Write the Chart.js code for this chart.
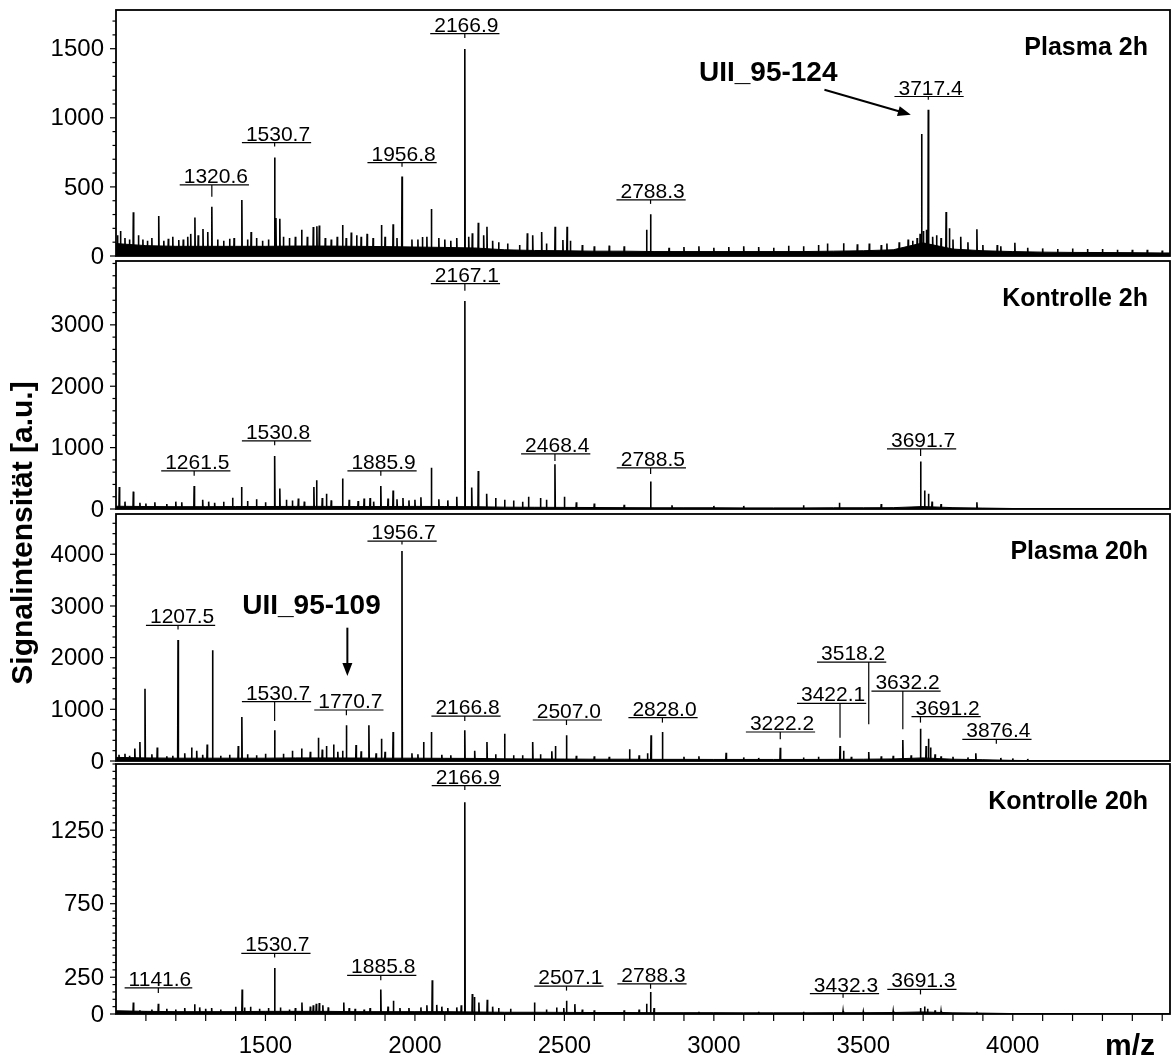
<!DOCTYPE html>
<html>
<head>
<meta charset="utf-8">
<script src="https://cdn.jsdelivr.net/npm/chart.js@4.4.1/dist/chart.umd.min.js"></script>
<style>
body { margin: 0; background: #fff; width: 1172px; height: 1059px; position: relative; overflow: hidden;
       font-family: "Liberation Sans", Arial, sans-serif; }
canvas { position: absolute; left: 0; }
#ytitle { position: absolute; left: -178px; top: 516px; width: 400px; height: 34px; line-height: 34px;
          text-align: center; font-weight: bold; font-size: 30px; transform: rotate(-90deg); }
</style>
</head>
<body>
<canvas id="p1" width="1172" height="270" style="top:0px"></canvas>
<canvas id="p2" width="1172" height="274" style="top:249px"></canvas>
<canvas id="p3" width="1172" height="273" style="top:502px"></canvas>
<canvas id="p4" width="1172" height="307" style="top:752px"></canvas>
<div id="ytitle">Signalintensität [a.u.]</div>
<script>
// m/z axis
const xMin = 1000, xMax = 4526;
const xLabels = [1500, 2000, 2500, 3000, 3500, 4000];

// noise floor, read every 100 m/z
const noiseMz = [1000,1100,1200,1300,1400,1500,1600,1700,1800,1900,2000,2100,2200,2300,2400,2500,2600,2700,
                 2800,2900,3000,3100,3200,3300,3400,3500,3600,3700,3800,3900,4000,4100,4200,4300,4400,4500];
const noiseP1 = [90,75,70,70,70,70,72,72,70,68,65,62,58,45,40,38,35,35,32,32,32,32,32,32,35,38,45,95,50,38,32,28,26,25,24,22];
const noiseP2 = [45,40,38,38,40,40,42,42,40,40,42,40,38,30,28,26,24,22,20,20,20,18,18,18,20,20,22,40,22,15,8,6,5,5,5,5];
const noiseP3 = [70,60,55,55,55,55,60,60,58,55,55,52,50,42,40,38,35,35,32,32,30,30,30,30,32,35,40,60,35,25,12,5,3,3,3,3];
const noiseP4 = [22,18,16,16,16,18,18,18,16,16,16,16,14,12,12,11,10,10,9,9,9,8,8,8,9,9,10,14,8,6,3,2,0,0,0,0];

// peaks [m/z, intensity]
const peaksP1 = [[1058,317],[1143,290],[1264,278],[1291,195],[1307,173],[1320.6,357],[1421,406],[1452,173],
  [1530.7,713],[1535,275],[1548,270],[1621,190],[1660,210],[1672,215],[1680,220],[1758,225],[1787,170],[1805,150],
  [1888,225],[1927,230],[1956.8,575],[2025,137],[2055,340],[2166.9,1498],[2192,165],[2212,241],[2241,212],
  [2376,165],[2394,150],[2424,173],[2469,212],[2495,115],[2509,212],[2775,190],[2788.3,302],[3434,92],[3579,90],
  [3680,130],[3695,882],[3711,190],[3717.4,1058],[3732,140],[3777,319],[3788,200],[3826,140],[3880,193],
  [3948,80],[4007,95]];
const grassP1 = [[1005,150],[1015,180],[1030,130],[1045,120],[1075,150],[1090,120],[1105,110],[1120,130],[1160,110],
  [1175,125],[1190,140],[1210,115],[1225,120],[1240,140],[1250,160],[1275,150],[1340,120],[1360,110],[1380,125],
  [1395,130],[1440,120],[1470,130],[1490,110],[1510,120],[1560,140],[1580,130],[1600,140],[1640,140],[1700,130],
  [1720,120],[1740,140],[1770,130],[1820,140],[1840,160],[1860,130],[1900,140],[1940,130],[1990,120],[2010,120],
  [2040,140],[2080,130],[2100,120],[2120,110],[2140,130],[2180,140],[2230,150],[2260,110],[2280,100],[2310,90],
  [2350,80],[2440,90],[2520,110],[2560,80],[2600,70],[2650,75],[2700,70],[2850,60],[2900,65],[2950,70],[3000,60],
  [3050,65],[3100,70],[3150,65],[3200,60],[3250,75],[3300,70],[3350,80],[3380,90],[3480,85],[3520,90],[3560,80],
  [3620,100],[3650,120],[3665,110],[3690,160],[3701,180],[3745,150],[3760,130],[3800,120],[3850,100],[3900,80],
  [3960,70],[4050,60],[4100,55],[4150,50],[4200,55],[4250,50],[4300,50],[4350,45],[4400,45],[4450,45],[4500,40]];

const peaksP2 = [[1011,359],[1058,283],[1261.5,375],[1390,185],[1420,359],[1530.8,865],[1548,335],[1662,359],
  [1671,468],[1704,250],[1758,495],[1850,180],[1885.9,375],[1927,300],[1960,180],[2000,150],[2055,670],
  [2167.1,3390],[2190,350],[2212,620],[2240,250],[2300,150],[2380,200],[2420,180],[2468.4,730],[2500,200],
  [2788.5,450],[3420,100],[3560,80],[3691.7,775],[3705,300],[3718,250],[3880,110]];
const grassP2 = [[1030,120],[1080,100],[1100,90],[1130,110],[1170,80],[1200,120],[1220,110],[1290,150],[1310,120],
  [1330,100],[1360,120],[1440,130],[1470,160],[1500,110],[1570,150],[1590,140],[1610,170],[1630,120],[1690,180],
  [1720,140],[1780,150],[1810,130],[1830,170],[1862,120],[1910,170],[1940,160],[1980,140],[2020,190],[2080,160],
  [2110,140],[2140,200],[2270,180],[2330,140],[2360,120],[2440,150],[2540,110],[2600,90],[2700,70],[2860,60],
  [3000,50],[3100,50],[3300,60],[3730,120],[3760,80]];

const peaksP3 = [[1063,240],[1080,368],[1097,1400],[1138,260],[1207.5,2341],[1253,260],[1305,320],[1323,2141],
  [1409,290],[1421,851],[1530.7,594],[1621,240],[1677,452],[1704,290],[1728,320],[1770.7,690],[1803,310],
  [1846,690],[1888,433],[1927,561],[1956.7,4062],[2029,368],[2055,561],[2166.8,594],[2241,368],[2300,529],
  [2394,368],[2470,290],[2507,497],[2718,226],[2790,497],[2828,561],[3041,160],[3222.2,258],[3422.1,290],
  [3434,200],[3518.2,174],[3632.2,406],[3691.2,626],[3710,290],[3718,433],[3725,260],[3876.4,148]];
const grassP3 = [[1010,120],[1030,140],[1045,100],[1120,130],[1170,90],[1190,100],[1230,150],[1270,200],[1290,120],
  [1350,100],[1380,120],[1440,130],[1470,110],[1500,140],[1560,140],[1590,200],[1650,180],[1690,220],[1742,180],
  [1758,200],[1820,190],[1870,150],[1900,180],[1990,150],[2010,130],[2090,120],[2120,110],[2200,200],[2270,130],
  [2330,110],[2360,110],[2420,130],[2458,190],[2540,100],[2600,90],[2650,80],[2750,110],[2778,150],[2900,80],
  [2950,90],[3100,70],[3150,60],[3300,70],[3350,80],[3460,80],[3560,90],[3600,100],[3660,110],[3740,130],
  [3760,90],[3800,80],[3850,70],[3960,60],[4000,50],[4050,40]];

const peaksP4 = [[1058,78],[1141.6,69],[1263,67],[1422,166],[1530.7,313],[1622,78],[1680,74],[1762,78],
  [1885.8,166],[1928,90],[2058,230],[2073,62],[2166.9,1440],[2192,136],[2199,115],[2214,78],[2242,97],[2400,78],
  [2474,44],[2507.1,90],[2535,67],[2775,70],[2788.3,150],[2800,40],[2950,15],[3432.3,21],[3691.3,40],[3705,51],
  [3715,35],[3740,25]];
const grassP4 = [[1080,25],[1100,20],[1120,30],[1170,35],[1200,30],[1230,40],[1280,45],[1300,35],[1320,40],
  [1350,30],[1400,50],[1430,45],[1450,50],[1480,35],[1510,40],[1550,45],[1580,30],[1600,40],[1650,50],[1660,60],
  [1670,70],[1692,60],[1710,45],[1780,40],[1800,35],[1830,30],[1850,40],[1910,50],[1950,40],[1980,40],[2020,45],
  [2040,60],[2090,50],[2110,40],[2140,45],[2155,60],[2260,50],[2280,40],[2320,35],[2440,30],[2498,40],[2560,30],
  [2600,25],[2700,25],[2750,30],[3150,15],[3300,15],[3500,15],[3600,20],[3760,20],[3880,15]];

// peak labels [text, tick m/z, text m/z, bar intensity, tick end intensity]
const labelsP1 = [['1320.6',1320.6,1334,514,428],['1530.7',1530.7,1542,821,792],['1956.8',1956.8,1962,676,645],
  ['2166.9',2166.9,2172,1609,1577],['2788.3',2788.3,2795,406,377],['3717.4',3717.4,3725,1154,1130]];
const labelsP2 = [['1261.5',1261.5,1272,620,543],['1530.8',1530.8,1542,1109,1039],['1885.9',1885.9,1895,620,543],
  ['2167.1',2167.1,2174,3670,3556],['2468.4',2468.4,2476,897,783],['2788.5',2788.5,2796,669,571],
  ['3691.7',3691.7,3700,979,865]];
const labelsP3 = [['1207.5',1207.5,1221,2625,2547],['1530.7',1530.7,1542,1149,774],['1770.7',1770.7,1784,987,884],
  ['1956.7',1956.7,1962,4255,4191],['2166.8',2166.8,2176,870,774],['2507.0',2507.0,2515,793,696],
  ['2828.0',2828.0,2835,839,743],['3222.2',3222.2,3228,561,420],['3422.1',3422.1,3399,1116,452],
  ['3518.2',3518.2,3466,1915,710],['3632.2',3632.2,3648,1354,613],['3691.2',3691.2,3782,859,743],
  ['3876.4',3945,3952,420,336]];
const labelsP4 = [['1141.6',1141.6,1147,177,143],['1530.7',1530.7,1540,412,384],['1885.8',1885.8,1894,262,230],
  ['2166.9',2166.9,2177,1553,1523],['2507.1',2507.1,2520,189,159],['2788.3',2788.3,2798,205,172],
  ['3432.3',3432.3,3442,139,110],['3691.3',3691.3,3701,167,133]];

// annotated arrows: text, text m/z, text baseline intensity, from [m/z, int], to [m/z, int]
const arrowsP1 = [['UII_95-124', 3182, 1263, [3370, 1203], [3659, 1022]]];
const arrowsP3 = [['UII_95-109', 1654, 2838, [1774, 2580], [1774, 1644]]];

const FONT = '"Liberation Sans", Arial, sans-serif';

function spectrum(peaks, grass) {
    const all = peaks.concat(grass).sort((a, b) => a[0] - b[0]);
    const pts = [{x: xMin, y: 0}];
    all.forEach(([mz, h]) => {
        pts.push({x: mz - 1.2, y: 0}, {x: mz, y: h}, {x: mz + 1.2, y: 0});
    });
    pts.push({x: xMax, y: 0});
    return pts;
}

function noise(levels) {
    const pts = noiseMz.map((mz, i) => ({x: mz, y: levels[i]}));
    pts.push({x: xMax, y: levels[levels.length - 1]});
    return pts;
}

function line(ctx, x1, y1, x2, y2) {
    ctx.beginPath();
    ctx.moveTo(x1, y1);
    ctx.lineTo(x2, y2);
    ctx.stroke();
}

const deco = {
    id: 'deco',
    afterDatasetsDraw(chart, args, o) {
        const {ctx, chartArea: a} = chart;
        const xs = chart.scales.x, ys = chart.scales.y;
        ctx.save();
        ctx.strokeStyle = '#000';
        ctx.fillStyle = '#000';

        // frame
        ctx.lineWidth = 1.8;
        ctx.strokeRect(a.left, a.top, a.right - a.left, a.bottom - a.top);

        // y ticks and labels
        ctx.lineWidth = 1.2;
        ctx.font = '24px ' + FONT;
        ctx.textAlign = 'right';
        ctx.textBaseline = 'middle';
        for (let v = 0; v <= o.yMax; v += o.yMinor) {
            const py = ys.getPixelForValue(v);
            const major = o.yLabels.includes(v);
            line(ctx, a.left - (major ? 6 : 3.5), py, a.left, py);
            if (major) ctx.fillText(String(v), a.left - 12, py + 1);
        }

        // x ticks and labels on bottom panel
        if (o.bottom) {
            ctx.textAlign = 'center';
            ctx.textBaseline = 'top';
            for (let v = 1100; v <= 4500; v += 100) {
                const px = xs.getPixelForValue(v);
                line(ctx, px, a.bottom, px, a.bottom + 7);
                if (xLabels.includes(v)) ctx.fillText(String(v), px, a.bottom + 20);
            }
            ctx.font = 'bold 30px ' + FONT;
            ctx.textBaseline = 'alphabetic';
            ctx.fillText('m/z', 1130, a.bottom + 41);
        }

        // panel title
        ctx.font = 'bold 25px ' + FONT;
        ctx.textAlign = 'right';
        ctx.textBaseline = 'alphabetic';
        ctx.fillText(o.title, 1148, a.top + 45);

        // peak labels
        ctx.font = '21px ' + FONT;
        ctx.textAlign = 'center';
        ctx.lineWidth = 1.2;
        o.labels.forEach(([txt, tickMz, textMz, barV, endV]) => {
            const xt = xs.getPixelForValue(textMz), xk = xs.getPixelForValue(tickMz);
            const yb = ys.getPixelForValue(barV), ye = ys.getPixelForValue(endV);
            const w = ctx.measureText(txt).width;
            ctx.fillText(txt, xt, yb - 2);
            line(ctx, xt - w / 2 - 4, yb, xt + w / 2 + 1, yb);
            line(ctx, xk, yb, xk, ye);
        });

        // arrows
        (o.arrows || []).forEach(([txt, tMz, tV, from, to]) => {
            ctx.font = 'bold 28px ' + FONT;
            ctx.textAlign = 'center';
            ctx.fillText(txt, xs.getPixelForValue(tMz), ys.getPixelForValue(tV));
            const x1 = xs.getPixelForValue(from[0]), y1 = ys.getPixelForValue(from[1]);
            const x2 = xs.getPixelForValue(to[0]), y2 = ys.getPixelForValue(to[1]);
            const ang = Math.atan2(y2 - y1, x2 - x1);
            ctx.lineWidth = 2;
            line(ctx, x1, y1, x2 - 8 * Math.cos(ang), y2 - 8 * Math.sin(ang));
            ctx.beginPath();
            ctx.moveTo(x2, y2);
            ctx.lineTo(x2 - 13 * Math.cos(ang) + 5 * Math.sin(ang), y2 - 13 * Math.sin(ang) - 5 * Math.cos(ang));
            ctx.lineTo(x2 - 13 * Math.cos(ang) - 5 * Math.sin(ang), y2 - 13 * Math.sin(ang) + 5 * Math.cos(ang));
            ctx.closePath();
            ctx.fill();
        });
        ctx.restore();
    }
};

function makePanel(id, cfg) {
    const ctx = document.getElementById(id).getContext('2d');
    return new Chart(ctx, {
        type: 'line',
        data: {
            datasets: [{
                data: noise(cfg.noise),
                fill: 'origin',
                backgroundColor: '#000',
                borderColor: '#000',
                borderWidth: 1,
                pointRadius: 0
            }, {
                data: spectrum(cfg.peaks, cfg.grass),
                fill: false,
                borderColor: '#000',
                borderWidth: 1.6,
                pointRadius: 0
            }]
        },
        options: {
            responsive: false,
            animation: false,
            events: [],
            layout: {padding: {left: 116, right: 2, top: cfg.padTop, bottom: cfg.padBottom}},
            elements: {line: {tension: 0}},
            plugins: {
                legend: {display: false},
                tooltip: {enabled: false},
                deco: {
                    title: cfg.title, labels: cfg.labels, arrows: cfg.arrows, bottom: cfg.bottom,
                    yMax: cfg.yMax, yMinor: cfg.yMinor, yLabels: cfg.yLabels
                }
            },
            scales: {
                x: {type: 'linear', min: xMin, max: xMax, display: false},
                y: {min: 0, max: cfg.yMax, display: false}
            }
        },
        plugins: [deco]
    });
}

makePanel('p1', {title: 'Plasma 2h', noise: noiseP1, peaks: peaksP1, grass: grassP1, labels: labelsP1,
    arrows: arrowsP1, yMax: 1780, yMinor: 100, yLabels: [0, 500, 1000, 1500], padTop: 10, padBottom: 14, bottom: false});
makePanel('p2', {title: 'Kontrolle 2h', noise: noiseP2, peaks: peaksP2, grass: grassP2, labels: labelsP2,
    yMax: 4040, yMinor: 200, yLabels: [0, 1000, 2000, 3000], padTop: 12, padBottom: 14, bottom: false});
makePanel('p3', {title: 'Plasma 20h', noise: noiseP3, peaks: peaksP3, grass: grassP3, labels: labelsP3,
    arrows: arrowsP3, yMax: 4780, yMinor: 200, yLabels: [0, 1000, 2000, 3000, 4000], padTop: 12, padBottom: 14, bottom: false});
makePanel('p4', {title: 'Kontrolle 20h', noise: noiseP4, peaks: peaksP4, grass: grassP4, labels: labelsP4,
    yMax: 1700, yMinor: 50, yLabels: [0, 250, 750, 1250], padTop: 12, padBottom: 45, bottom: true});
</script>
</body>
</html>
